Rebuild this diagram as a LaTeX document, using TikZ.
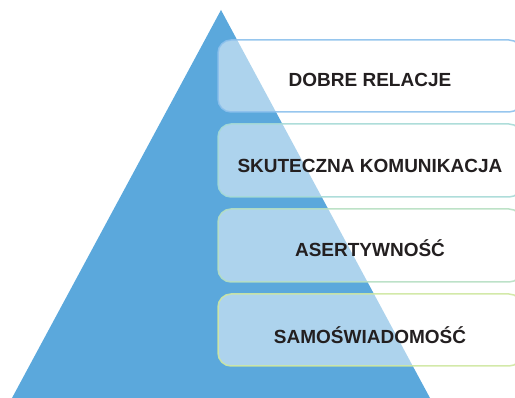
\documentclass[tikz,border=0pt]{standalone}
\usepackage{fontspec}
\setmainfont{Liberation Sans}
\begin{document}
\begin{tikzpicture}[x=1pt,y=-1pt,
  tier/.style={rounded corners=13pt, line width=1.5pt, fill=white, fill opacity=0.5, draw opacity=0.9},
  label/.style={anchor=base, font=\fontsize{19}{22}\selectfont\bfseries, text=textdark, inner sep=0pt}]
  \definecolor{pyr}{HTML}{5BA8DC}
  \definecolor{textdark}{HTML}{231F20}
  \definecolor{edgeA}{HTML}{8CC0EC}
  \definecolor{edgeB}{HTML}{A6DAD6}
  \definecolor{edgeC}{HTML}{B6DFC2}
  \definecolor{edgeD}{HTML}{CFE7A0}
  \useasboundingbox (0,0) rectangle (515,398);
  \clip (0,0) rectangle (515,398);
  % pyramid
  \fill[pyr] (221,10) -- (430,398) -- (12,398) -- cycle;
  % tiers
  \draw[tier, draw=edgeA] (218,40) rectangle (522,112);
  \draw[tier, draw=edgeB] (218,124) rectangle (522,197);
  \draw[tier, draw=edgeC] (218,209) rectangle (522,282);
  \draw[tier, draw=edgeD] (218,294) rectangle (522,366);
  % labels
  \node[label] (t1) at (370,87) {DOBRE RELACJE};
  \node[label] (t2) at (370,173) {SKUTECZNA KOMUNIKACJA};
  \node[label] (t3) at (370,257) {ASERTYWNOŚĆ};
  \node[label] (t4) at (370,344) {SAMOŚWIADOMOŚĆ};
\end{tikzpicture}
\end{document}
